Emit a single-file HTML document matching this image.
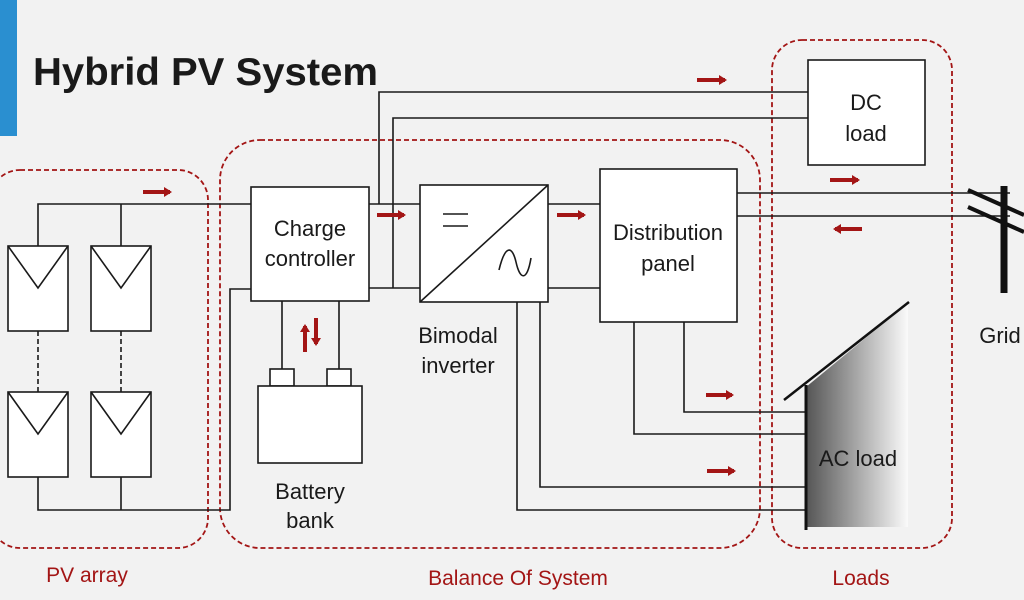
<!DOCTYPE html>
<html><head><meta charset="utf-8"><style>
html,body{margin:0;padding:0;background:#f2f2f2;}
svg{display:block;}
text{font-family:"Liberation Sans",sans-serif;}
</style></head><body>
<svg width="1024" height="600" viewBox="0 0 1024 600" xmlns="http://www.w3.org/2000/svg">
<defs>
<linearGradient id="g" x1="0" x2="1" y1="0" y2="0"><stop offset="0" stop-color="#555"/><stop offset="1" stop-color="#fafafa"/></linearGradient>
<marker id="ah" markerWidth="4" markerHeight="4" refX="1.5" refY="2" orient="auto" markerUnits="strokeWidth"><path d="M0,0.75 L2,2 L0,3.25 z" fill="#a31515"/></marker>
</defs>
<rect width="1024" height="600" fill="#f2f2f2"/>
<rect x="0" y="0" width="17" height="136" fill="#2a8fd0"/>
<text x="33" y="85" font-size="39" font-weight="bold" fill="#1a1a1a" textLength="345" lengthAdjust="spacingAndGlyphs">Hybrid PV System</text>

<g fill="none" stroke="#a31515" stroke-width="1.8" stroke-dasharray="5,3">
<rect x="-10" y="170" width="218" height="378" rx="30"/>
<rect x="220" y="140" width="540" height="408" rx="40"/>
<rect x="772" y="40" width="180" height="508" rx="30"/>
</g>

<g stroke="#1a1a1a" stroke-width="1.6" fill="none">
<path d="M38,246 V204 H251 M121,204 V246"/>
<path d="M38,477 V510 H230 V289 H251 M121,477 V510"/>
<path d="M38,331 V392 M121,331 V392" stroke-dasharray="5,3"/>
<path d="M369,204 H420 M369,288 H420"/>
<path d="M379,204 V92 H808 M393,288 V118 H808"/>
<path d="M282,301 V369 M339,301 V369"/>
<path d="M548,204 H600 M548,288 H600"/>
<path d="M737,193 H1010 M737,216 H1010"/>
<path d="M634,322 V434 H806 M684,322 V412 H806 M540,302 V487 H806 M517,302 V510 H806"/>
</g>

<g fill="#fff" stroke="#1a1a1a" stroke-width="1.6">
<rect x="8" y="246" width="60" height="85"/><rect x="91" y="246" width="60" height="85"/>
<rect x="8" y="392" width="60" height="85"/><rect x="91" y="392" width="60" height="85"/>
</g>
<g fill="none" stroke="#1a1a1a" stroke-width="1.6">
<path d="M8,246 L38,288 L68,246 M91,246 L121,288 L151,246 M8,392 L38,434 L68,392 M91,392 L121,434 L151,392"/>
</g>

<g fill="#fff" stroke="#1a1a1a" stroke-width="1.6">
<rect x="251" y="187" width="118" height="114"/>
<rect x="270" y="369" width="24" height="17"/><rect x="327" y="369" width="24" height="17"/>
<rect x="258" y="386" width="104" height="77"/>
<rect x="420" y="185" width="128" height="117"/>
<rect x="600" y="169" width="137" height="153"/>
<rect x="808" y="60" width="117" height="105"/>
</g>
<g fill="none" stroke="#1a1a1a" stroke-width="1.6">
<path d="M420,302 L548,185"/>
<path d="M443,214 H468 M443,226 H468"/>
<path d="M499,270 C505,245 512,245 516,262 C520,280 527,282 531,258"/>
</g>

<polygon points="806,387 908,303 908,527 806,527" fill="url(#g)"/>
<path d="M806,385 V530" stroke="#111" stroke-width="3"/>
<path d="M784,400 L909,302" stroke="#111" stroke-width="2.5"/>

<path d="M1004,186 V293" stroke="#111" stroke-width="7"/>
<path d="M968,190 L1024,215 M968,207 L1024,232" stroke="#111" stroke-width="4"/>

<g stroke="#a31515" stroke-width="4" marker-end="url(#ah)">
<path d="M143,192 H170"/>
<path d="M377,215 H404"/>
<path d="M557,215 H584"/>
<path d="M697,80 H725"/>
<path d="M830,180 H858"/>
<path d="M862,229 H835"/>
<path d="M706,395 H732"/>
<path d="M707,471 H734"/>
<path d="M305,352 V326"/>
<path d="M316,318 V344"/>
</g>

<g font-size="22" fill="#1a1a1a" text-anchor="middle">
<text x="310" y="236">Charge</text>
<text x="310" y="266">controller</text>
<text x="310" y="499">Battery</text>
<text x="310" y="528">bank</text>
<text x="458" y="343">Bimodal</text>
<text x="458" y="373">inverter</text>
<text x="668" y="240">Distribution</text>
<text x="668" y="271">panel</text>
<text x="866" y="110">DC</text>
<text x="866" y="141">load</text>
<text x="858" y="466">AC load</text>
<text x="1000" y="343">Grid</text>
</g>
<g font-size="21" fill="#a31515" text-anchor="middle">
<text x="87" y="582">PV array</text>
<text x="518" y="585">Balance Of System</text>
<text x="861" y="585">Loads</text>
</g>
</svg>
</body></html>
